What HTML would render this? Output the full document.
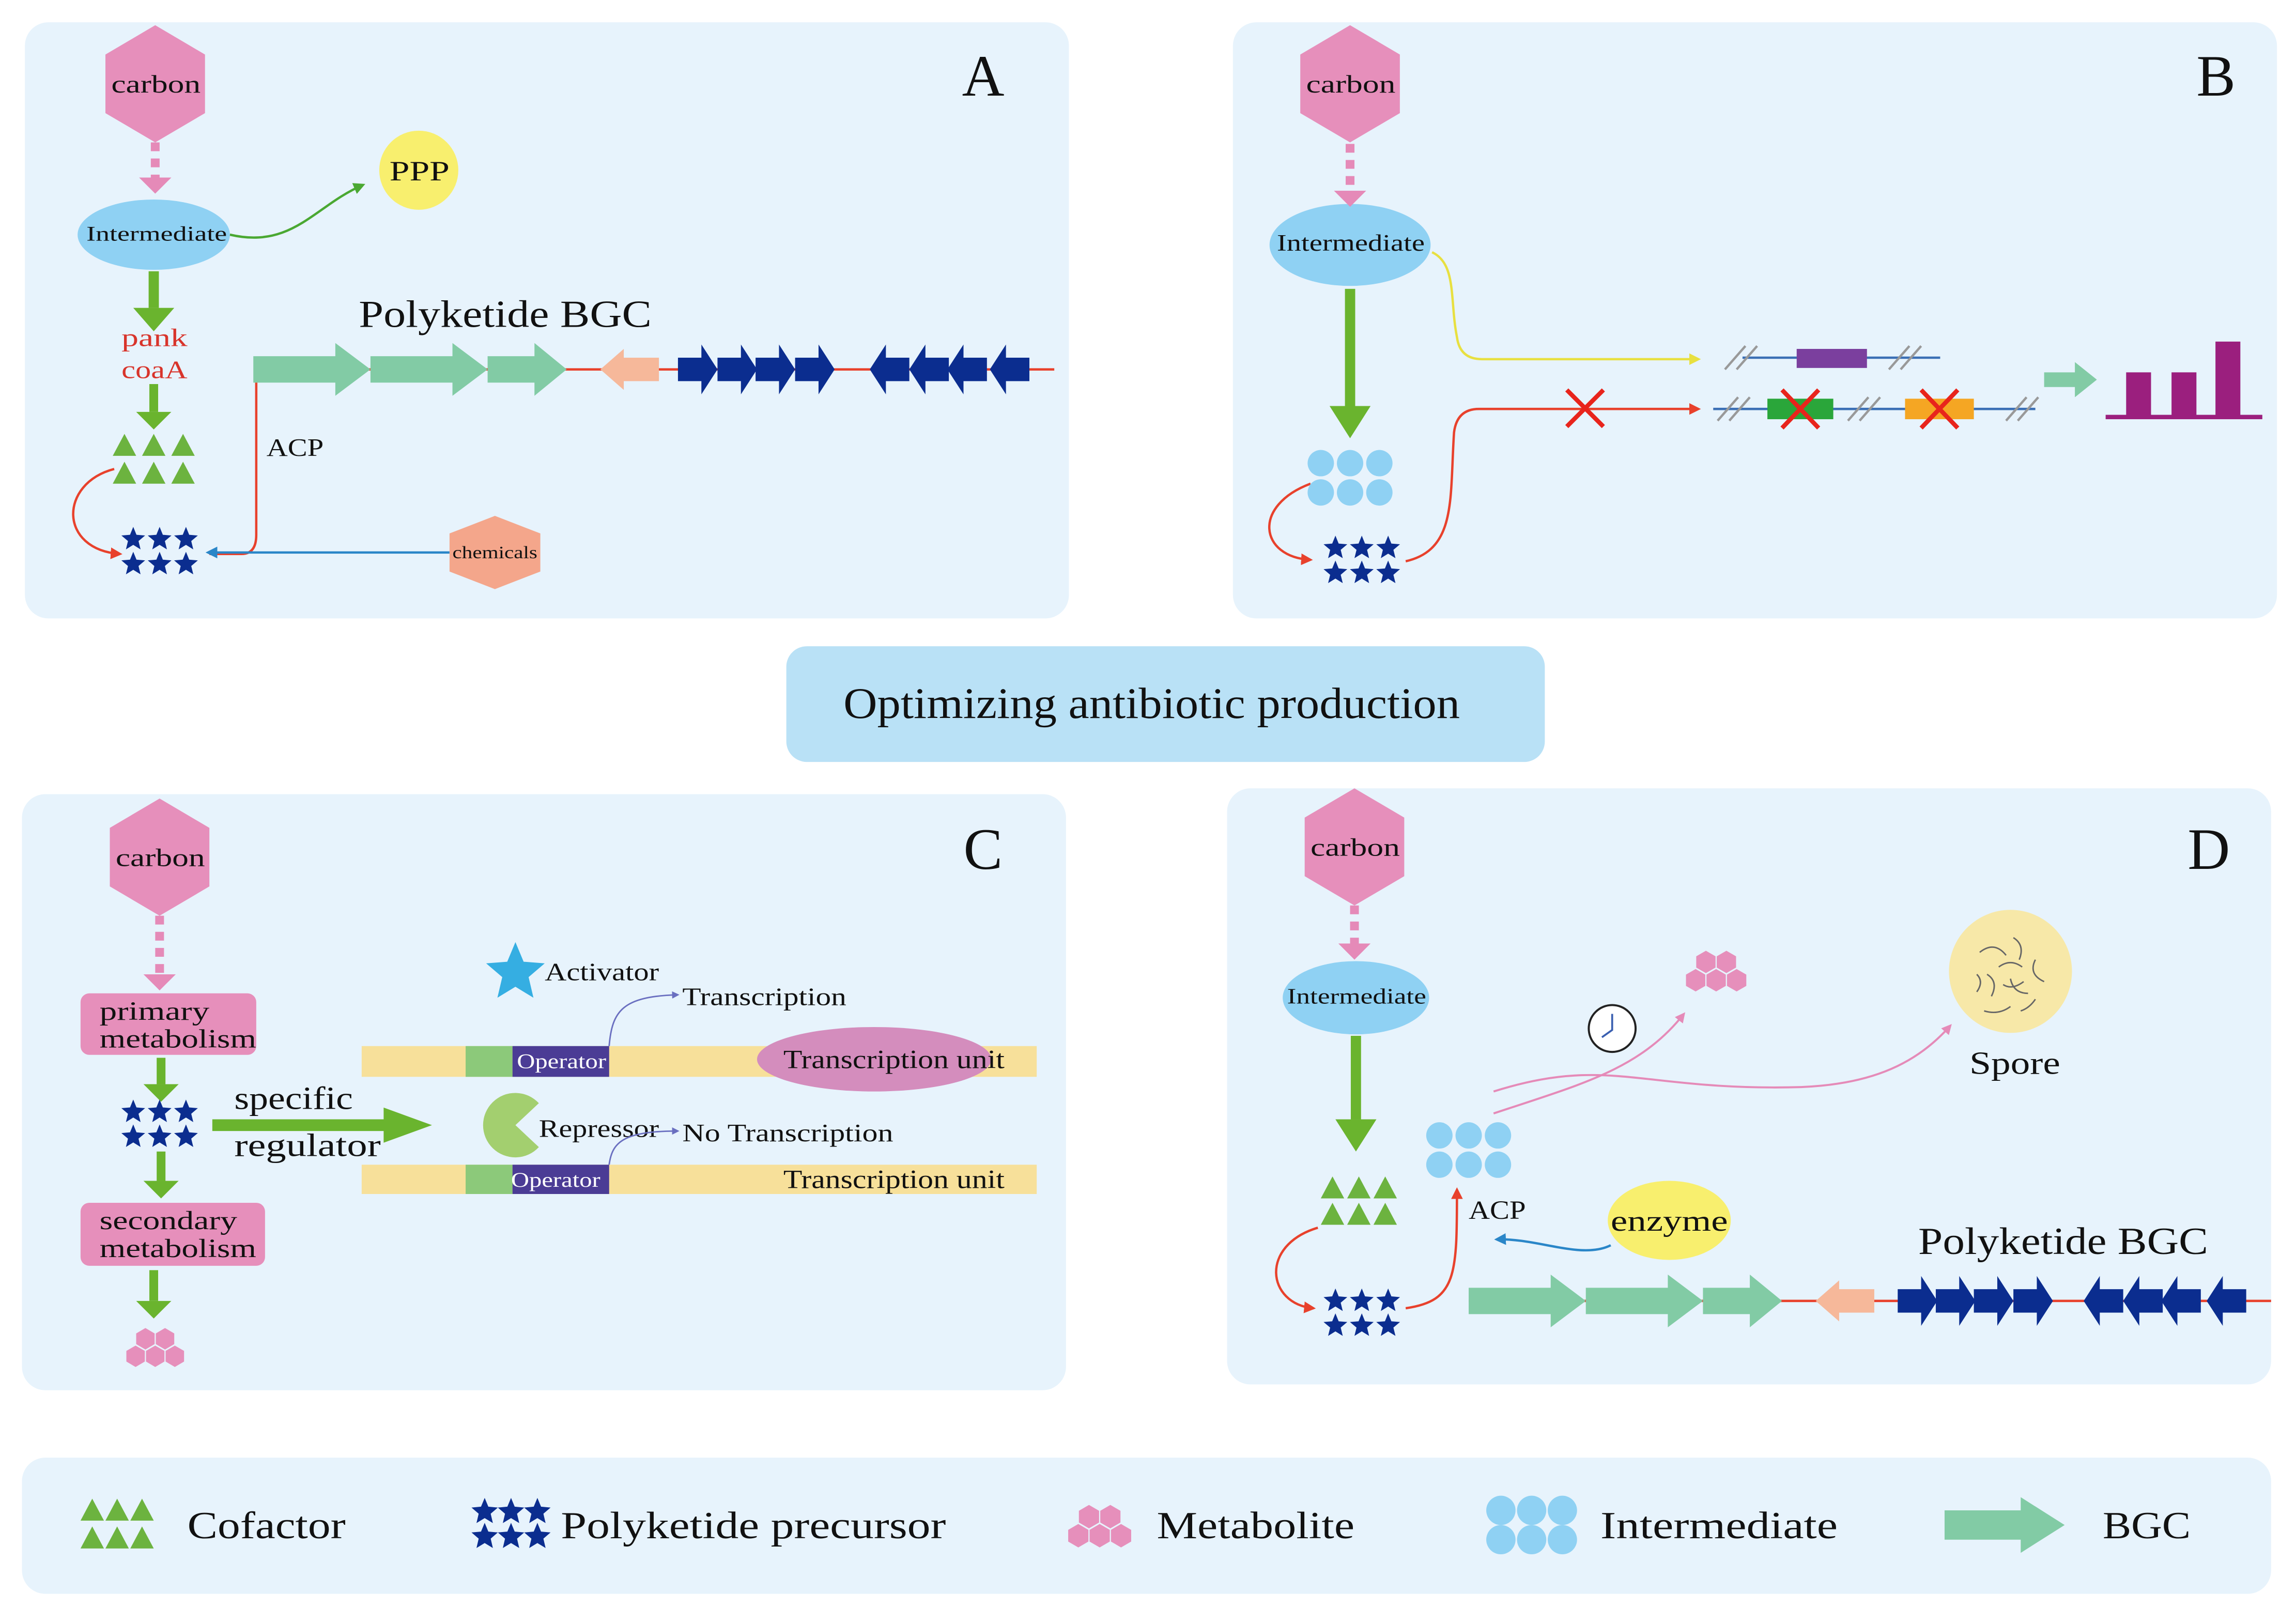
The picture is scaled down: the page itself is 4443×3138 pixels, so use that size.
<!DOCTYPE html>
<html><head><meta charset="utf-8"><style>
html,body{margin:0;padding:0;background:#fff;}
svg{display:block;}
text{font-family:"Liberation Serif",serif;fill:#111;}
</style></head><body>
<svg id="s" width="4443" height="3138" viewBox="0 0 1568 1107" xmlns="http://www.w3.org/2000/svg">
<defs>
<marker id="mr" viewBox="0 0 10 10" refX="8" refY="5" markerWidth="5" markerHeight="5" orient="auto"><path d="M0,0 L10,5 L0,10 z" fill="#e8412c"/></marker>
<marker id="mg" viewBox="0 0 10 10" refX="8" refY="5" markerWidth="5" markerHeight="5" orient="auto"><path d="M0,0 L10,5 L0,10 z" fill="#4aa832"/></marker>
<marker id="mb" viewBox="0 0 10 10" refX="8" refY="5" markerWidth="5" markerHeight="5" orient="auto"><path d="M0,0 L10,5 L0,10 z" fill="#2a86c8"/></marker>
<marker id="my" viewBox="0 0 10 10" refX="8" refY="5" markerWidth="5" markerHeight="5" orient="auto"><path d="M0,0 L10,5 L0,10 z" fill="#e8e040"/></marker>
<marker id="mp" viewBox="0 0 10 10" refX="8" refY="5" markerWidth="5" markerHeight="5" orient="auto"><path d="M0,0 L10,5 L0,10 z" fill="#e58ab8"/></marker>
<marker id="mv" viewBox="0 0 10 10" refX="8" refY="5" markerWidth="5" markerHeight="5" orient="auto"><path d="M0,0 L10,5 L0,10 z" fill="#6a6fc0"/></marker>
</defs>
<!-- panels -->
<rect x="17" y="15" width="713" height="407" rx="16" fill="#e7f3fc"/>
<rect x="842" y="15" width="713" height="407" rx="16" fill="#e7f3fc"/>
<rect x="15" y="542" width="713" height="407" rx="16" fill="#e7f3fc"/>
<rect x="838" y="538" width="713" height="407" rx="16" fill="#e7f3fc"/>
<rect x="15" y="995" width="1536" height="93" rx="16" fill="#e7f3fc"/>
<rect x="537" y="441" width="518" height="79" rx="14" fill="#b9e1f6"/>
<text x="576" y="490" font-size="30" textLength="421" lengthAdjust="spacingAndGlyphs">Optimizing antibiotic production</text>
<g font-size="40"><text x="657" y="65">A</text><text x="1500" y="65">B</text><text x="658" y="593">C</text><text x="1494" y="593">D</text></g>

<!-- A -->
<path d="M157,160 C200,170 215,140 248,126" stroke="#4aa832" stroke-width="1.6" fill="none" marker-end="url(#mg)"/>
<circle cx="286" cy="116" r="27" fill="#f8ef6e"/>
<text x="266" y="123" font-size="19" textLength="41" lengthAdjust="spacingAndGlyphs">PPP</text>
<ellipse cx="105" cy="160" rx="52" ry="24" fill="#8fd1f3"/>
<text x="59" y="164" font-size="14" textLength="96" lengthAdjust="spacingAndGlyphs">Intermediate</text>
<text x="83" y="236" font-size="17" style="fill:#d8342b" textLength="45" lengthAdjust="spacingAndGlyphs">pank</text>
<text x="83" y="258" font-size="17" style="fill:#d8342b" textLength="45" lengthAdjust="spacingAndGlyphs">coaA</text>
<path d="M78,320 C40,330 40,375 82,378" stroke="#e8412c" stroke-width="1.6" fill="none" marker-end="url(#mr)"/>
<path d="M143,378 L165,378 Q175,378 175,365 L175,252 L720,252" stroke="#e8412c" stroke-width="1.6" fill="none"/>
<text x="182" y="311" font-size="17" textLength="39" lengthAdjust="spacingAndGlyphs">ACP</text>
<text x="245" y="223" font-size="26" textLength="200" lengthAdjust="spacingAndGlyphs">Polyketide BGC</text>
<line x1="307" y1="377" x2="142" y2="377" stroke="#2a86c8" stroke-width="1.6" marker-end="url(#mb)"/>
<polygon points="338,352 369,364 369,390 338,402 307,390 307,364" fill="#f4a68b"/>
<text x="309" y="381" font-size="12" textLength="58" lengthAdjust="spacingAndGlyphs">chemicals</text>

<!-- B -->
<ellipse cx="922" cy="167" rx="55" ry="28" fill="#8fd1f3"/>
<text x="872" y="171" font-size="16" textLength="101" lengthAdjust="spacingAndGlyphs">Intermediate</text>
<path d="M978,172 C995,180 990,205 995,230 Q997,245 1012,245 L1160,245" stroke="#e8e040" stroke-width="1.6" fill="none" marker-end="url(#my)"/>
<path d="M895,330 C855,345 860,380 895,382" stroke="#e8412c" stroke-width="1.6" fill="none" marker-end="url(#mr)"/>
<path d="M960,383 C995,375 990,340 993,295 Q995,279 1010,279 L1160,279" stroke="#e8412c" stroke-width="1.6" fill="none" marker-end="url(#mr)"/>
<g stroke="#e8241c" stroke-width="3"><line x1="1070" y1="266" x2="1095" y2="291"/><line x1="1095" y1="266" x2="1070" y2="291"/></g>
<line x1="1190" y1="244" x2="1325" y2="244" stroke="#3b6fb5" stroke-width="1.6"/>
<rect x="1227" y="238" width="48" height="13" fill="#7b3f9e"/>
<line x1="1170" y1="279" x2="1390" y2="279" stroke="#3b6fb5" stroke-width="1.6"/>
<rect x="1207" y="272" width="45" height="14" fill="#2aa63a"/>
<rect x="1301" y="272" width="47" height="14" fill="#f5a623"/>
<g stroke="#e8241c" stroke-width="3"><line x1="1217" y1="266" x2="1242" y2="292"/><line x1="1242" y1="266" x2="1217" y2="292"/><line x1="1312" y1="266" x2="1337" y2="292"/><line x1="1337" y1="266" x2="1312" y2="292"/></g>
<g stroke="#999" stroke-width="1.6">
<line x1="1178" y1="252" x2="1192" y2="236"/><line x1="1186" y1="252" x2="1200" y2="236"/>
<line x1="1290" y1="252" x2="1304" y2="236"/><line x1="1298" y1="252" x2="1312" y2="236"/>
<line x1="1173" y1="287" x2="1187" y2="271"/><line x1="1181" y1="287" x2="1195" y2="271"/>
<line x1="1262" y1="287" x2="1276" y2="271"/><line x1="1270" y1="287" x2="1284" y2="271"/>
<line x1="1370" y1="287" x2="1384" y2="271"/><line x1="1378" y1="287" x2="1392" y2="271"/>
</g>
<polygon points="1396,254 1417,254 1417,247 1432,259 1417,271 1417,264 1396,264" fill="#82cba5"/>
<g fill="#9b1f7e"><rect x="1438" y="283" width="107" height="3"/><rect x="1452" y="254" width="17" height="30"/><rect x="1483" y="254" width="17" height="30"/><rect x="1513" y="233" width="17" height="51"/></g>

<!-- C -->
<rect x="55" y="678" width="120" height="42" rx="6" fill="#e68fbb"/>
<text x="68" y="696" font-size="18" textLength="75" lengthAdjust="spacingAndGlyphs">primary</text><text x="68" y="715" font-size="18" textLength="107" lengthAdjust="spacingAndGlyphs">metabolism</text>
<rect x="55" y="821" width="126" height="43" rx="6" fill="#e68fbb"/>
<text x="68" y="839" font-size="18" textLength="94" lengthAdjust="spacingAndGlyphs">secondary</text><text x="68" y="858" font-size="18" textLength="107" lengthAdjust="spacingAndGlyphs">metabolism</text>
<text x="160" y="757" font-size="22" textLength="81" lengthAdjust="spacingAndGlyphs">specific</text><text x="160" y="789" font-size="22" textLength="100" lengthAdjust="spacingAndGlyphs">regulator</text>
<text x="372" y="669" font-size="17" textLength="78" lengthAdjust="spacingAndGlyphs">Activator</text>
<rect x="247" y="714" width="461" height="21" fill="#f7e09a"/>
<rect x="318" y="714" width="32" height="21" fill="#8cc97a"/>
<rect x="350" y="714" width="66" height="21" fill="#4b3c95"/>
<text x="353" y="729" font-size="14" style="fill:#fff" textLength="61" lengthAdjust="spacingAndGlyphs">Operator</text>
<ellipse cx="597" cy="723" rx="80" ry="22" fill="#d48dbd"/>
<text x="535" y="729" font-size="18" textLength="151" lengthAdjust="spacingAndGlyphs">Transcription unit</text>
<path d="M416,714 C418,690 425,680 463,679" stroke="#6a6fc0" stroke-width="1" fill="none" marker-end="url(#mv)"/>
<text x="466" y="686" font-size="17" textLength="112" lengthAdjust="spacingAndGlyphs">Transcription</text>
<path d="M352,768 L368,753 A22,22 0 1,0 368,783 Z" fill="#a3cf6f"/>
<text x="368" y="776" font-size="17" textLength="82" lengthAdjust="spacingAndGlyphs">Repressor</text>
<path d="M416,795 C418,780 425,772 463,772" stroke="#6a6fc0" stroke-width="1" fill="none" marker-end="url(#mv)"/>
<text x="466" y="779" font-size="17" textLength="144" lengthAdjust="spacingAndGlyphs">No Transcription</text>
<rect x="247" y="795" width="461" height="20" fill="#f7e09a"/>
<rect x="318" y="795" width="32" height="20" fill="#8cc97a"/>
<rect x="350" y="795" width="66" height="20" fill="#4b3c95"/>
<text x="349" y="810" font-size="14" style="fill:#fff" textLength="61" lengthAdjust="spacingAndGlyphs">Operator</text>
<text x="535" y="811" font-size="18" textLength="151" lengthAdjust="spacingAndGlyphs">Transcription unit</text>

<!-- D -->
<ellipse cx="926" cy="681" rx="50" ry="25" fill="#8fd1f3"/>
<text x="879" y="685" font-size="15" textLength="95" lengthAdjust="spacingAndGlyphs">Intermediate</text>
<path d="M900,838 C860,850 865,890 897,893" stroke="#e8412c" stroke-width="1.6" fill="none" marker-end="url(#mr)"/>
<path d="M960,893 C995,888 995,870 995,812" stroke="#e8412c" stroke-width="1.6" fill="none" marker-end="url(#mr)"/>
<line x1="1003" y1="888" x2="1551" y2="888" stroke="#e8412c" stroke-width="1.6"/>
<text x="1003" y="832" font-size="18" textLength="39" lengthAdjust="spacingAndGlyphs">ACP</text>
<path d="M1100,850 C1080,860 1050,845 1022,846" stroke="#2a86c8" stroke-width="1.6" fill="none" marker-end="url(#mb)"/>
<ellipse cx="1140" cy="833" rx="42" ry="27" fill="#f8ef6e"/>
<text x="1100" y="840" font-size="20" textLength="80" lengthAdjust="spacingAndGlyphs">enzyme</text>
<path d="M1020,760 C1080,740 1120,730 1150,692" stroke="#e58ab8" stroke-width="1.4" fill="none" marker-end="url(#mp)"/>
<path d="M1020,745 C1100,720 1120,745 1230,742 C1280,740 1310,725 1332,700" stroke="#e58ab8" stroke-width="1.4" fill="none" marker-end="url(#mp)"/>
<circle cx="1101" cy="702" r="16" fill="#fff" stroke="#222" stroke-width="1.4"/>
<path d="M1101,692 L1101,703 L1094,708" stroke="#3a5fb0" stroke-width="1.3" fill="none"/>
<circle cx="1373" cy="663" r="42" fill="#f7e8a8"/>
<g stroke="#666" stroke-width="1" fill="none">
<path d="M1352,650 q10,-8 18,2"/><path d="M1375,640 q8,5 4,15"/><path d="M1390,655 q-5,10 6,15"/><path d="M1385,678 q-10,0 -12,-10"/><path d="M1360,680 q5,-10 -3,-15"/><path d="M1365,660 q8,-6 16,0"/><path d="M1368,672 q6,4 14,-2"/><path d="M1350,665 q5,5 0,12"/><path d="M1355,690 q10,3 18,-3"/><path d="M1380,690 q6,-2 10,-8"/>
</g>
<text x="1345" y="733" font-size="22" textLength="62" lengthAdjust="spacingAndGlyphs">Spore</text>
<text x="1310" y="856" font-size="26" textLength="198" lengthAdjust="spacingAndGlyphs">Polyketide BGC</text>

<g id="dyn"></g>

<!-- legend text -->
<g font-size="26"><text x="128" y="1050" textLength="108" lengthAdjust="spacingAndGlyphs">Cofactor</text><text x="383" y="1050" textLength="263" lengthAdjust="spacingAndGlyphs">Polyketide precursor</text><text x="790" y="1050" textLength="135" lengthAdjust="spacingAndGlyphs">Metabolite</text><text x="1093" y="1050" textLength="162" lengthAdjust="spacingAndGlyphs">Intermediate</text><text x="1436" y="1050" textLength="60" lengthAdjust="spacingAndGlyphs">BGC</text></g>
<text x="76" y="63" font-size="17" textLength="61" lengthAdjust="spacingAndGlyphs">carbon</text>
<text x="892" y="63" font-size="17" textLength="61" lengthAdjust="spacingAndGlyphs">carbon</text>
<text x="79" y="591" font-size="17" textLength="61" lengthAdjust="spacingAndGlyphs">carbon</text>
<text x="895" y="584" font-size="17" textLength="61" lengthAdjust="spacingAndGlyphs">carbon</text>
</svg>
<script>
var g=document.getElementById('dyn'),NS='http://www.w3.org/2000/svg';
function el(t,a){var e=document.createElementNS(NS,t);for(var k in a)e.setAttribute(k,a[k]);g.appendChild(e);return e;}
function poly(pts,f){el('polygon',{points:pts.map(function(p){return p[0].toFixed(1)+','+p[1].toFixed(1)}).join(' '),fill:f});}
function bighex(cx,cy,rw,rh){poly([[cx,cy-rh],[cx+rw,cy-rh/2],[cx+rw,cy+rh/2],[cx,cy+rh],[cx-rw,cy+rh/2],[cx-rw,cy-rh/2]],'#e68fbb');}
function star(cx,cy,r,f){var p=[];for(var i=0;i<10;i++){var a=-Math.PI/2+i*Math.PI/5,rr=i%2?r*0.45:r;p.push([cx+rr*Math.cos(a),cy+rr*Math.sin(a)]);}poly(p,f);}
function tri(cx,cy){poly([[cx,cy-8],[cx+8,cy+7],[cx-8,cy+7]],'#6cb33f');}
function tris(x,y,dx,dy){for(var i=0;i<3;i++){tri(x+i*dx,y);tri(x+i*dx,y+dy);}}
function stars(x,y,dx,dy,r){for(var i=0;i<3;i++){star(x+i*dx,y,r,'#0b2d8f');star(x+i*dx,y+dy,r,'#0b2d8f');}}
function circs(x,y,dx,dy,r){for(var i=0;i<3;i++){el('circle',{cx:x+i*dx,cy:y,r:r,fill:'#8fd1f3'});el('circle',{cx:x+i*dx,cy:y+dy,r:r,fill:'#8fd1f3'});}}
function mets(cx,cy,s){var r=7*s,w=r*0.87;[[cx-w,cy-r*0.8],[cx+w,cy-r*0.8],[cx-2*w,cy+r*0.75],[cx,cy+r*0.75],[cx+2*w,cy+r*0.75]].forEach(function(c){var p=[];for(var i=0;i<6;i++){var a=Math.PI/3*i-Math.PI/2;p.push([c[0]+r*0.95*Math.cos(a),c[1]+r*0.95*Math.sin(a)]);}poly(p,'#e68fbb');});}
function dash(x,y1,y2){el('line',{x1:x,y1:y1,x2:x,y2:y2-10,stroke:'#e58ab8','stroke-width':6,'stroke-dasharray':'6,5'});poly([[x-11,y2-11],[x+11,y2-11],[x,y2]],'#e58ab8');}
function garr(x,y1,y2,w,hw,hl){el('rect',{x:x-w/2,y:y1,width:w,height:y2-y1-hl,fill:'#6ab42e'});poly([[x-hw,y2-hl],[x+hw,y2-hl],[x,y2]],'#6ab42e');}
function rarr(x1,x2,y,bh,hh,hl,f){poly([[x1,y-bh],[x2-hl,y-bh],[x2-hl,y-hh],[x2,y],[x2-hl,y+hh],[x2-hl,y+bh],[x1,y+bh]],f);}
function larr(x1,x2,y,bh,hh,hl,f){poly([[x2,y-bh],[x1+hl,y-bh],[x1+hl,y-hh],[x1,y],[x1+hl,y+hh],[x1+hl,y+bh],[x2,y+bh]],f);}
function bgc(x0,y,peach,rights,lefts){var G='#82cba5',B='#0b2d8f';rarr(x0,x0+80,y,9,18,24,G);rarr(x0+80,x0+160,y,9,18,24,G);rarr(x0+160,x0+214,y,9,18,22,G);
larr(peach,peach+40,y,8,14,16,'#f6b89a');rights.forEach(function(x){rarr(x,x+27,y,8,17,11,B);});lefts.forEach(function(x){larr(x,x+27,y,8,17,11,B);});}
// A
bighex(106,57,34,40);dash(106,97,132);garr(105,185,226,7,14,16);garr(105,262,293,6,12,12);tris(85,304,20,19);stars(91,368,18,17,8.5);
bgc(173,252,410,[463,490,516,543],[594,621,647,676]);
// B
bighex(922,57,34,40);dash(922,98,141);garr(922,197,299,7,14,22);circs(902,316,20,20,9);stars(912,374,18,17,8.5);
// C
bighex(109,585,34,40);dash(109,625,676);garr(110,722,752,6,12,12);stars(91,759,18,17,8.5);garr(110,786,818,6,12,12);garr(105,867,900,6,12,12);mets(106,920,1.1);
el('rect',{x:145,y:764,width:120,height:8,fill:'#6ab42e'});poly([[262,756],[295,768],[262,780]],'#6ab42e');
star(352,664,21,'#35aee2');
// D
bighex(925,578,34,40);dash(925,618,655);garr(926,707,786,7,14,22);tris(910,811,18,18);stars(912,888,18,17,8.5);circs(983,775,20,20,9);mets(1172,663,1.15);
bgc(1003,888,1240,[1296,1322,1348,1375],[1423,1450,1476,1507]);
// legend
tris(63,1031,17,19);stars(331,1032,18,17,9.5);mets(751,1042,1.2);circs(1025,1031,21,20,10);
rarr(1328,1410,1041,10,19,30,'#82cba5');
</script>
</body></html>
